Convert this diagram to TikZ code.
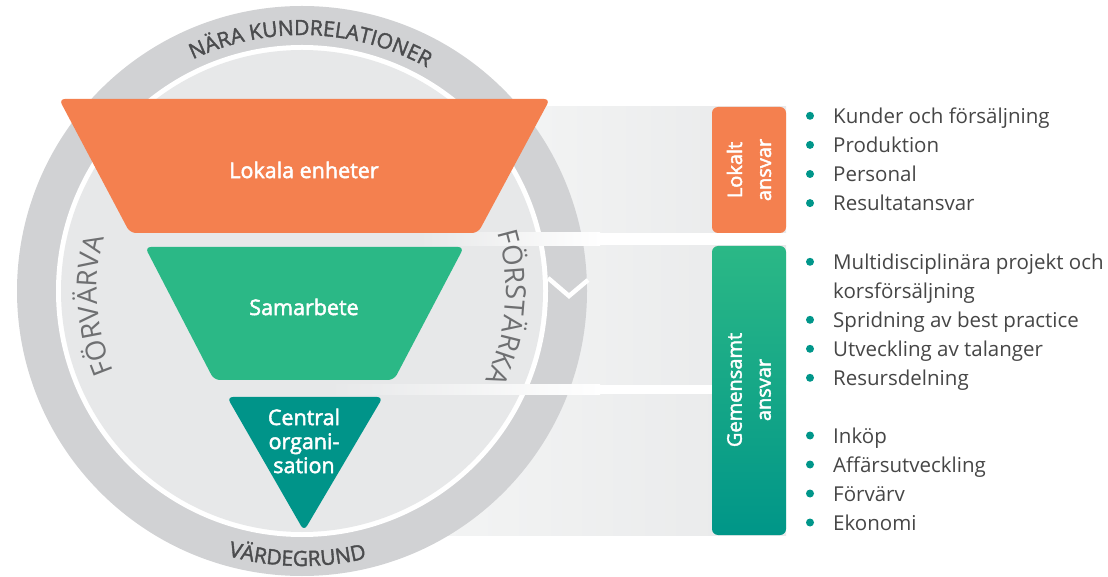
\documentclass[tikz,border=0pt]{standalone}
\usepackage{fontspec}
\setmainfont{Open Sans}
\newfontfamily\semib[FakeBold=2.2]{Open Sans}
\newfontfamily\ringfnt[FakeBold=1.8]{Open Sans}
\usetikzlibrary{positioning,decorations.text}

\definecolor{ringgray}{HTML}{D1D2D4}
\definecolor{discgray}{HTML}{E7E8E9}
\definecolor{bandgray}{HTML}{E8E9EA}
\definecolor{bandlight}{HTML}{F3F4F4}
\definecolor{lokalorange}{HTML}{F4804F}
\definecolor{samgreen}{HTML}{2BB886}
\definecolor{centralteal}{HTML}{009489}
\definecolor{boxteal}{HTML}{009688}
\definecolor{ringtext}{HTML}{4B4C4E}
\definecolor{sidetext}{HTML}{6E6F71}
\definecolor{listtext}{HTML}{464646}
\definecolor{bullet}{HTML}{00968A}

\tikzset{
  funnel/.style={rounded corners=6pt},
  funnellabel/.style={text=white, font=\semib\fontsize{21.5}{24}\selectfont, align=center},
  boxlabel/.style={text=white, font=\semib\fontsize{20}{29}\selectfont, align=center, rotate=90},
  listitem/.style={anchor=base west, text=listtext, font=\fontsize{20.5}{24}\selectfont, inner sep=0pt},
  bulletdot/.style={fill=bullet},
}

\begin{document}
\begin{tikzpicture}[x=1pt,y=1pt]
	\useasboundingbox (0,0) rectangle (1108,576);
	\fill[white] (0,0) rectangle (1108,576);
	
	% bands behind the wheel
	\shade[left color=bandlight, right color=bandgray] (515,469) rectangle (786,343);
	\shade[left color=bandlight, right color=bandgray] (480,330) rectangle (786,191);
	\shade[left color=bandlight, right color=bandgray] (440,181) rectangle (786,41);
	
	% wheel
	\coordinate (M) at (302,285);
	\fill[ringgray] (M) circle (285);
	\fill[white] (M) circle (246);
	\fill[discgray] (M) circle (241);
	
	% gaps between the bands
	\shade[left color=discgray, right color=white] (420,343) rectangle (600,330);
	\shade[left color=discgray, right color=white] (330,191) rectangle (600,181);
	
	% notch in the ring
	\draw[white, line width=4.5pt] (548,298) -- (569,280) -- (588,296);
	
	% funnel
	\fill[lokalorange, funnel] (59,477) -- (550,477) -- (478,343) -- (130,343) -- cycle;
	\fill[samgreen, funnel] (145,329) -- (464,329) -- (394,196) -- (214,196) -- cycle;
	\fill[centralteal, funnel] (227,179) -- (383,179) -- (304,45) -- cycle;
	\node[funnellabel] (lokala) at (304,406) {Lokala enheter};
	\node[funnellabel] (samarbete) at (304,269) {Samarbete};
	\node[funnellabel] (central) at (304,135) {Central\\organi-\\sation};
	
	% texts round the wheel
	\path[decorate, decoration={text along path, text align=center, text color=ringtext,
		text={|\ringfnt\fontsize{21}{21}\selectfont|NÄRA KUNDRELATIONER}}]
		([shift={(122:256)}]M) arc[start angle=122, end angle=54, radius=256];
	\path[decorate, decoration={text along path, text align=center, text color=ringtext,
		text={|\ringfnt\fontsize{21}{21}\selectfont|VÄRDEGRUND}}]
		([shift={(247:275)}]M) arc[start angle=247, end angle=291, radius=275];
	\path[decorate, decoration={text along path, text align=center, text color=sidetext,
		text={|\fontsize{27.5}{27.5}\selectfont|FÖRVÄRVA}}]
		([shift={(210:205)}]M) arc[start angle=210, end angle=158, radius=205];
	\path[decorate, decoration={text along path, text align=center, text color=sidetext,
		text={|\fontsize{27.5}{27.5}\selectfont|FÖRSTÄRKA}}]
		([shift={(22:204)}]M) arc[start angle=22, end angle=-31.4, radius=204];
	
	% responsibility boxes
	\fill[lokalorange, rounded corners=6pt] (712,469) rectangle (786,343);
	\shade[top color=samgreen, bottom color=boxteal, rounded corners=6pt] (712,330) rectangle (786,41);
	\node[boxlabel] (lokalt) at (749,406) {Lokalt\\ansvar};
	\node[boxlabel] (gemensamt) at (749,186) {Gemensamt\\ansvar};
	
	% lists
	\fill[bulletdot] (810,460.2) circle (4);
	\node[listitem] (kunder) at (833,452.7) {Kunder och försäljning};
	\fill[bulletdot] (810,431.1) circle (4);
	\node[listitem] (produktion) at (833,423.6) {Produktion};
	\fill[bulletdot] (810,402) circle (4);
	\node[listitem] (personal) at (833,394.5) {Personal};
	\fill[bulletdot] (810,372.9) circle (4);
	\node[listitem] (resultat) at (833,365.4) {Resultatansvar};
	
	\fill[bulletdot] (810,314.2) circle (4);
	\node[listitem] (multi) at (833,306.7) {Multidisciplinära projekt och};
	\node[listitem] (kors) at (833,277.7) {korsförsäljning};
	\fill[bulletdot] (810,256.2) circle (4);
	\node[listitem] (spridning) at (833,248.7) {Spridning av best practice};
	\fill[bulletdot] (810,227.2) circle (4);
	\node[listitem] (talanger) at (833,219.7) {Utveckling av talanger};
	\fill[bulletdot] (810,198.2) circle (4);
	\node[listitem] (resurs) at (833,190.7) {Resursdelning};
	
	\fill[bulletdot] (810,140.5) circle (4);
	\node[listitem] (inkop) at (833,133) {Inköp};
	\fill[bulletdot] (810,111.5) circle (4);
	\node[listitem] (affar) at (833,104) {Affärsutveckling};
	\fill[bulletdot] (810,82.5) circle (4);
	\node[listitem] (forvarv) at (833,75) {Förvärv};
	\fill[bulletdot] (810,53.5) circle (4);
	\node[listitem] (ekonomi) at (833,46) {Ekonomi};
\end{tikzpicture}
\end{document}
